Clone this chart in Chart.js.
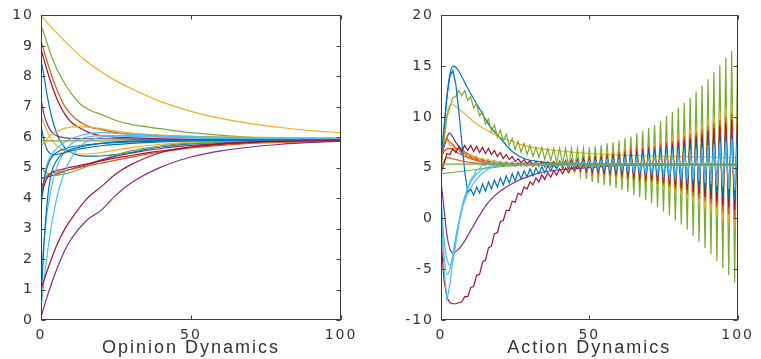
<!DOCTYPE html>
<html>
<head>
<meta charset="utf-8">
<script src="https://cdn.jsdelivr.net/npm/chart.js"></script>
<style>
  html, body { margin: 0; padding: 0; background: #fff; }
  #wrap { position: relative; width: 761px; height: 359px; overflow: hidden; }
  canvas { position: absolute; top: 0; }
</style>
</head>
<body>
<div id="wrap">
  <canvas id="opinion" width="380" height="359" style="left:0;width:380px;height:359px"></canvas>
  <canvas id="action" width="381" height="359" style="left:380px;width:381px;height:359px"></canvas>
</div>
<script>
// MATLAB default line colours
const BLUE = '#0072BD', ORANGE = '#D95319', YELLOW = '#EDB120', PURPLE = '#7E2F8E',
      GREEN = '#77AC30', LBLUE = '#4DBEEE', RED = '#A2142F';

// ---- axis ticks ----
const xTicks = [0, 50, 100];
const opinionYTicks = [0, 1, 2, 3, 4, 5, 6, 7, 8, 9, 10];
const actionYTicks = [-10, -5, 0, 5, 10, 15, 20];

// ---- Opinion Dynamics (each agent: x samples) ----
const opYellowTopX = [0, 5, 10, 15, 20, 25, 30, 40, 50, 60, 70, 80, 90, 100];
const opYellowTopY = [10, 9.45, 8.95, 8.5, 8.15, 7.85, 7.6, 7.17, 6.85, 6.62, 6.45, 6.32, 6.22, 6.15];
const opGreenTopX = [0, 1, 3, 5, 8, 10, 13, 16, 20, 25, 30, 40, 50, 70, 100];
const opGreenTopY = [9.65, 9.4, 8.8, 8.3, 7.75, 7.45, 7.1, 6.9, 6.75, 6.55, 6.42, 6.28, 6.15, 6.0, 5.95];
const opOrangeTopX = [0, 2, 4, 6, 8, 10, 13, 16, 20, 25, 30, 40, 60, 100];
const opOrangeTopY = [9.15, 8.5, 7.9, 7.4, 7.0, 6.75, 6.5, 6.35, 6.25, 6.15, 6.1, 6.05, 6.0, 5.97];
const opRedTopX = [0, 2, 4, 6, 8, 10, 13, 16, 20, 25, 30, 40, 60, 100];
const opRedTopY = [8.9, 8.2, 7.6, 7.1, 6.75, 6.5, 6.3, 6.15, 6.05, 6.0, 5.98, 5.95, 5.93, 5.92];
const opBlueTopX = [0, 1, 2, 3, 4, 5, 6, 8, 10, 12, 15, 18, 22, 26, 30, 35, 40, 50, 70, 100];
const opBlueTopY = [8.55, 8.0, 7.4, 6.9, 6.5, 6.2, 5.95, 5.65, 5.5, 5.42, 5.38, 5.38, 5.4, 5.45, 5.5, 5.6, 5.68, 5.78, 5.87, 5.9];
const opPurpleTopX = [0, 1, 2, 3, 4, 6, 8, 10, 15, 20, 30, 50, 100];
const opPurpleTopY = [7.25, 6.75, 6.45, 6.25, 6.12, 6.02, 5.98, 5.96, 5.95, 5.95, 5.94, 5.93, 5.92];
const opYellowMidX = [0, 1, 2, 3, 5, 7, 10, 13, 16, 20, 25, 30, 40, 50, 70, 100];
const opYellowMidY = [6.7, 6.45, 6.2, 6.0, 5.75, 5.6, 5.5, 5.45, 5.45, 5.5, 5.58, 5.66, 5.77, 5.84, 5.9, 5.92];
const opBlueMidX = [0, 1, 2, 3, 4, 6, 8, 10, 15, 20, 30, 40, 60, 100];
const opBlueMidY = [6.4, 5.9, 5.6, 5.47, 5.43, 5.45, 5.5, 5.55, 5.65, 5.72, 5.8, 5.85, 5.9, 5.92];
const opYellowHumpX = [0, 2, 4, 6, 8, 10, 13, 16, 20, 25, 30, 40, 50, 70, 100];
const opYellowHumpY = [5.7, 5.95, 6.12, 6.22, 6.3, 6.33, 6.35, 6.33, 6.28, 6.2, 6.14, 6.07, 6.03, 6.0, 5.98];
const opLBlueHumpX = [0, 1, 2, 3, 4, 6, 8, 10, 13, 16, 20, 25, 30, 40, 50, 70, 100];
const opLBlueHumpY = [3.6, 4.6, 5.1, 5.35, 5.5, 5.7, 5.85, 5.95, 6.05, 6.12, 6.15, 6.13, 6.1, 6.05, 6.02, 5.98, 5.95];
const opGreenFlatX = [0, 100];
const opGreenFlatY = [5.88, 5.88];
const opGreenLowX = [0, 1, 2, 3, 5, 7, 10, 13, 16, 20, 25, 30, 40, 50, 70, 100];
const opGreenLowY = [5.05, 4.9, 4.82, 4.77, 4.75, 4.78, 4.85, 4.95, 5.08, 5.25, 5.42, 5.55, 5.72, 5.8, 5.88, 5.9];
const opPurpleMidX = [0, 3, 6, 10, 15, 20, 25, 30, 40, 50, 60, 80, 100];
const opPurpleMidY = [4.65, 4.72, 4.82, 4.95, 5.1, 5.25, 5.38, 5.48, 5.63, 5.73, 5.8, 5.87, 5.9];
const opRedMidX = [0, 1, 2, 3, 5, 8, 10, 15, 20, 25, 30, 40, 50, 70, 100];
const opRedMidY = [3.95, 4.4, 4.65, 4.8, 4.9, 4.97, 5.02, 5.12, 5.22, 5.32, 5.4, 5.55, 5.68, 5.82, 5.9];
const opOrangeMidX = [0, 2, 5, 10, 15, 20, 30, 40, 50, 70, 100];
const opOrangeMidY = [4.3, 4.75, 4.85, 4.95, 5.05, 5.15, 5.35, 5.52, 5.65, 5.8, 5.88];
const opBlueRiseX = [0, 1, 2, 3, 4, 6, 8, 10, 15, 20, 30, 50, 100];
const opBlueRiseY = [3.9, 4.6, 5.0, 5.25, 5.4, 5.55, 5.62, 5.68, 5.75, 5.8, 5.85, 5.9, 5.92];
const opLBlueAX = [0, 1, 2, 3, 4, 6, 8, 10, 12, 15, 20, 25, 30, 40, 60, 100];
const opLBlueAY = [1.5, 2.6, 3.5, 4.1, 4.6, 5.2, 5.55, 5.78, 5.9, 6.0, 6.05, 6.05, 6.03, 6.0, 5.96, 5.94];
const opLBlueBX = [0, 1, 2, 3, 4, 6, 8, 10, 12, 15, 20, 25, 30, 40, 60, 100];
const opLBlueBY = [0.4, 1.3, 2.1, 2.8, 3.4, 4.3, 4.9, 5.3, 5.6, 5.85, 6.0, 6.05, 6.05, 6.02, 5.97, 5.94];
const opBlueLowX = [0, 1, 2, 3, 4, 6, 8, 10, 15, 20, 30, 100];
const opBlueLowY = [0.6, 2.5, 3.8, 4.6, 5.0, 5.35, 5.5, 5.6, 5.72, 5.8, 5.87, 5.92];
const opRedLowX = [0, 2, 5, 8, 10, 15, 20, 25, 30, 40, 50, 60, 80, 100];
const opRedLowY = [1.0, 1.6, 2.4, 3.0, 3.3, 3.95, 4.37, 4.8, 5.1, 5.5, 5.68, 5.78, 5.87, 5.9];
const opPurpleLowX = [0, 2, 5, 8, 10, 15, 20, 25, 30, 40, 50, 60, 70, 80, 90, 100];
const opPurpleLowY = [0.1, 0.75, 1.6, 2.3, 2.65, 3.25, 3.6, 4.1, 4.5, 5.02, 5.35, 5.55, 5.68, 5.77, 5.83, 5.87];

// ---- Action Dynamics: oscillating agents, one value per step 0..100 ----
const actGreen = [
  5.0, 7.6, 10.0, 11.0, 11.9, 12.0, 12.6, 12.1, 12.6, 11.6,
  12.0, 10.9, 11.3, 10.1, 10.5, 9.3, 9.8, 8.6, 9.2, 8.0,
  8.7, 7.6, 8.3, 7.2, 7.9, 6.8, 7.6, 6.5, 7.4, 6.3,
  7.2, 6.1, 7.0, 6.0, 7.0, 5.8, 6.9, 5.7, 6.9, 5.5,
  6.9, 5.3, 6.9, 5.1, 6.9, 4.7, 6.9, 4.3, 6.9, 3.9,
  7.0, 3.6, 7.1, 3.5, 7.2, 3.3, 7.4, 3.2, 7.5, 3.0,
  7.7, 2.8, 7.9, 2.6, 8.1, 2.3, 8.4, 2.1, 8.6, 1.8,
  8.9, 1.5, 9.2, 1.1, 9.6, 0.7, 10.1, 0.3, 10.5, -0.2,
  10.9, -0.6, 11.4, -1.1, 11.9, -1.7, 12.5, -2.3, 13.1, -2.9,
  13.7, -3.5, 14.4, -4.2, 15.1, -4.9, 15.8, -5.6, 16.5, -6.3,
  17.2
];
const actYellow = [
  6.5, 7.7, 7.7, 7.2, 7.2, 6.8, 6.8, 6.45, 6.5, 6.2,
  6.3, 6.0, 6.1, 5.8, 5.95, 5.7, 5.85, 5.6, 5.75, 5.5,
  5.65, 5.45, 5.6, 5.4, 5.55, 5.35, 5.5, 5.3, 5.5, 5.3,
  5.5, 5.25, 5.5, 5.2, 5.5, 5.15, 5.5, 5.1, 5.55, 5.05,
  5.7, 4.9, 5.75, 4.8, 5.8, 4.7, 5.9, 4.6, 6.0, 4.5,
  6.2, 4.4, 6.2, 4.35, 6.3, 4.2, 6.4, 4.2, 6.5, 4.1,
  6.6, 4.0, 6.7, 3.9, 6.8, 3.7, 6.9, 3.6, 7.1, 3.4,
  7.2, 3.3, 7.4, 3.1, 7.6, 2.9, 7.8, 2.7, 8.1, 2.4,
  8.3, 2.2, 8.5, 1.9, 8.8, 1.6, 9.1, 1.3, 9.4, 1.0,
  9.8, 0.7, 10.1, 0.3, 10.5, -0.1, 10.9, -0.5, 11.2, -0.8,
  11.6
];
const actOrange = [
  6.2, 7.4, 7.9, 7.5, 7.3, 6.9, 6.8, 6.4, 6.4, 6.0,
  6.1, 5.8, 5.9, 5.6, 5.7, 5.45, 5.6, 5.35, 5.5, 5.25,
  5.45, 5.2, 5.45, 5.2, 5.45, 5.15, 5.45, 5.15, 5.45, 5.15,
  5.45, 5.1, 5.5, 5.1, 5.5, 5.05, 5.5, 5.05, 5.55, 5.0,
  5.6, 4.9, 5.7, 4.9, 5.8, 4.8, 5.8, 4.7, 5.9, 4.6,
  6.0, 4.5, 6.1, 4.5, 6.2, 4.4, 6.2, 4.4, 6.3, 4.3,
  6.4, 4.2, 6.5, 4.1, 6.6, 4.0, 6.7, 3.9, 6.8, 3.7,
  6.9, 3.6, 7.1, 3.4, 7.3, 3.3, 7.5, 3.1, 7.6, 2.9,
  7.8, 2.7, 8.1, 2.4, 8.3, 2.2, 8.5, 1.9, 8.8, 1.7,
  9.1, 1.4, 9.4, 1.1, 9.7, 0.7, 10.0, 0.4, 10.3, 0.1,
  10.7
];
const actRed = [
  4.5, 5.4, 6.4, 6.3, 6.9, 6.5, 7.1, 6.6, 7.2, 6.7,
  7.2, 6.6, 7.1, 6.5, 7.0, 6.4, 6.9, 6.3, 6.7, 6.1,
  6.5, 5.9, 6.3, 5.8, 6.1, 5.6, 5.9, 5.5, 5.8, 5.4,
  5.7, 5.3, 5.6, 5.2, 5.6, 5.1, 5.6, 5.1, 5.6, 5.0,
  5.6, 5.0, 5.6, 5.0, 5.7, 4.9, 5.8, 4.8, 5.9, 4.7,
  5.9, 4.6, 6.0, 4.6, 6.0, 4.5, 6.1, 4.5, 6.2, 4.4,
  6.2, 4.3, 6.3, 4.2, 6.4, 4.1, 6.5, 4.1, 6.6, 3.9,
  6.7, 3.8, 6.8, 3.7, 7.0, 3.5, 7.2, 3.4, 7.3, 3.2,
  7.5, 3.0, 7.7, 2.8, 7.9, 2.6, 8.1, 2.4, 8.3, 2.1,
  8.6, 1.9, 8.9, 1.6, 9.1, 1.3, 9.4, 1.1, 9.7, 0.8,
  9.9
];
const actBlue = [
  6.0, 9.0, 12.0, 14.0, 14.6, 13.2, 10.6, 7.6, 4.6, 2.6,
  2.9, 2.3, 3.1, 2.5, 3.4, 2.7, 3.6, 2.9, 3.8, 3.1,
  4.0, 3.3, 4.2, 3.5, 4.4, 3.7, 4.6, 3.9, 4.7, 4.1,
  4.9, 4.2, 5.0, 4.4, 5.1, 4.5, 5.2, 4.7, 5.3, 4.9,
  5.5, 5.1, 5.6, 5.0, 5.6, 5.0, 5.7, 4.9, 5.7, 4.9,
  5.8, 4.8, 5.8, 4.8, 5.9, 4.7, 5.9, 4.7, 6.0, 4.6,
  6.0, 4.6, 6.1, 4.5, 6.2, 4.4, 6.2, 4.3, 6.3, 4.2,
  6.4, 4.2, 6.5, 4.0, 6.6, 3.9, 6.7, 3.8, 6.9, 3.7,
  7.0, 3.5, 7.1, 3.4, 7.3, 3.2, 7.5, 3.0, 7.6, 2.9,
  7.8, 2.7, 8.0, 2.5, 8.2, 2.2, 8.5, 2.0, 8.7, 1.8,
  8.9
];
const actLightBlue = [
  3.0, -5.0, -8.0, -6.5, -4.0, -2.0, -0.5, 0.8, 2.0, 2.9,
  3.8, 4.2, 4.8, 4.9, 5.3, 5.2, 5.5, 5.3, 5.6, 5.3,
  5.6, 5.3, 5.6, 5.2, 5.6, 5.2, 5.55, 5.2, 5.5, 5.2,
  5.5, 5.2, 5.5, 5.15, 5.45, 5.15, 5.45, 5.15, 5.45, 5.1,
  5.5, 5.1, 5.5, 5.1, 5.5, 5.1, 5.6, 5.0, 5.6, 5.0,
  5.7, 4.9, 5.7, 4.9, 5.7, 4.9, 5.8, 4.8, 5.8, 4.8,
  5.8, 4.8, 5.9, 4.7, 5.9, 4.6, 6.0, 4.6, 6.0, 4.5,
  6.1, 4.5, 6.2, 4.4, 6.3, 4.3, 6.4, 4.2, 6.4, 4.1,
  6.5, 4.0, 6.6, 3.9, 6.8, 3.8, 6.9, 3.7, 7.0, 3.5,
  7.2, 3.4, 7.3, 3.2, 7.5, 3.1, 7.6, 2.9, 7.8, 2.8,
  7.9
];
// red agent with the deep dip, steps 0..60
const actRedDip = [
  -2.0, -6.0, -7.8, -8.3, -8.4, -8.4, -8.3, -8.2, -7.7, -7.7,
  -6.8, -6.7, -5.6, -5.5, -4.3, -4.1, -2.9, -2.7, -1.5, -1.4,
  -0.3, -0.2, 0.8, 0.8, 1.7, 1.6, 2.5, 2.3, 3.1, 2.9,
  3.6, 3.3, 4.0, 3.6, 4.3, 3.85, 4.5, 4.05, 4.7, 4.25,
  4.9, 4.4, 5.0, 4.5, 5.1, 4.6, 5.2, 4.7, 5.3, 4.8,
  5.35, 4.85, 5.4, 4.9, 5.45, 4.95, 5.5, 5.0, 5.55, 5.0,
  5.6
];
// smooth agents of the action plot
const actBlueHumpX = [0, 1, 2, 3, 4, 5, 6, 8, 10, 13, 16, 20, 24, 28, 33, 40, 50, 100];
const actBlueHumpY = [5.0, 8.5, 12.0, 14.2, 15.0, 14.9, 14.5, 13.4, 12.3, 10.8, 9.3, 7.9, 6.6, 5.9, 5.6, 5.4, 5.35, 5.35];
const actYellowHumpX = [0, 1, 2, 3, 4, 5, 8, 12, 16, 20, 24, 28, 33, 42, 50, 60, 70, 80, 100];
const actYellowHumpY = [5.5, 8.0, 10.2, 11.1, 11.2, 11.0, 10.3, 9.3, 8.6, 8.0, 7.6, 7.2, 6.9, 6.6, 6.4, 6.25, 6.15, 6.1, 6.0];
const actPurplePeakX = [0, 1, 2, 3, 4, 5, 7, 10, 15, 20, 30, 100];
const actPurplePeakY = [6.0, 7.0, 8.0, 8.4, 8.0, 7.5, 6.8, 6.2, 5.7, 5.5, 5.35, 5.3];
const actPurpleDipX = [0, 1, 2, 3, 4, 6, 8, 10, 13, 16, 20, 25, 30, 35, 40, 50, 60, 100];
const actPurpleDipY = [3.7, 1.0, -1.6, -3.0, -3.4, -3.0, -2.2, -1.2, 0.3, 1.6, 2.7, 3.6, 4.2, 4.6, 4.8, 5.0, 5.2, 5.3];
const actLBlueDipX = [0, 1, 2, 3, 4, 5, 6, 7, 8, 10, 12, 15, 20, 30, 100];
const actLBlueDipY = [2.0, -2.0, -4.0, -4.6, -4.2, -2.5, -0.5, 1.0, 2.2, 3.6, 4.4, 5.0, 5.3, 5.3, 5.3];
const actLBlueDip2X = [0, 1, 2, 3, 4, 5, 6, 8, 10, 13, 16, 20, 30, 100];
const actLBlueDip2Y = [1.0, -3.5, -5.5, -5.0, -3.5, -1.8, -0.3, 1.8, 3.0, 4.2, 4.9, 5.2, 5.3, 5.3];
const actGreenRiseX = [0, 10, 20, 25, 30, 100];
const actGreenRiseY = [4.4, 4.75, 5.1, 5.2, 5.3, 5.3];
const actGreenFlatX = [0, 100];
const actGreenFlatY = [5.35, 5.35];
const actOrangeEarlyX = [0, 2, 5, 10, 20, 30, 100];
const actOrangeEarlyY = [5.0, 6.0, 5.8, 5.5, 5.3, 5.3, 5.3];
const actRedEarlyX = [0, 1, 3, 6, 10, 15, 20, 100];
const actRedEarlyY = [5.6, 6.6, 6.9, 6.4, 5.9, 5.5, 5.35, 5.3];

const steps = actGreen.map((_, i) => i);
const dipSteps = actRedDip.map((_, i) => i);

function line(xs, ys, color, smooth) {
  return {
    data: xs.map((x, i) => ({ x: x, y: ys[i] })),
    borderColor: color,
    borderWidth: 1.2,
    pointRadius: 0,
    fill: false,
    cubicInterpolationMode: smooth ? 'monotone' : 'default',
    tension: 0
  };
}

// draws the MATLAB style box and inward tick marks
const matlabBox = {
  id: 'matlabBox',
  beforeLayout(chart) { chart.ctx.letterSpacing = '2px'; },
  beforeDraw(chart) { chart.ctx.letterSpacing = '2px'; },
  afterDraw(chart) {
    const ctx = chart.ctx, a = chart.chartArea;
    const xs = chart.scales.x, ys = chart.scales.y;
    const L = Math.round(a.left) + 0.5, R = Math.round(a.right) - 0.5;
    const T = Math.round(a.top) + 0.5, B = Math.round(a.bottom) - 0.5;
    ctx.save();
    ctx.strokeStyle = '#3c3c3c';
    ctx.lineWidth = 1;
    ctx.strokeRect(L, T, R - L, B - T);
    ctx.beginPath();
    ys.ticks.forEach(t => {
      const p = Math.round(ys.getPixelForValue(t.value)) + 0.5;
      ctx.moveTo(L, p); ctx.lineTo(L + 4, p);
      ctx.moveTo(R, p); ctx.lineTo(R - 4, p);
    });
    xs.ticks.forEach(t => {
      const p = Math.round(xs.getPixelForValue(t.value)) + 0.5;
      ctx.moveTo(p, B); ctx.lineTo(p, B - 4);
      ctx.moveTo(p, T); ctx.lineTo(p, T + 4);
    });
    ctx.stroke();
    ctx.restore();
  }
};

function makeChart(id, datasets, yTicks, yWidth, rightPad, title) {
  return new Chart(document.getElementById(id), {
    type: 'line',
    data: { datasets: datasets.reverse() },
    plugins: [matlabBox],
    options: {
      responsive: false,
      animation: false,
      events: [],
      layout: { padding: { left: 0, top: 13, right: rightPad, bottom: 0 } },
      plugins: { legend: { display: false }, tooltip: { enabled: false } },
      scales: {
        x: {
          type: 'linear',
          min: xTicks[0],
          max: xTicks[xTicks.length - 1],
          afterBuildTicks: s => { s.ticks = xTicks.map(v => ({ value: v })); },
          afterFit: s => { s.height = 39; },
          grid: { display: false, drawTicks: false },
          border: { display: false },
          ticks: { color: '#333', padding: 7, maxRotation: 0, font: { family: 'DejaVu Sans', size: 14 } },
          title: {
            display: true, text: title, color: '#333',
            padding: { top: 0, bottom: 0 },
            font: { family: 'Liberation Sans', size: 18 }
          }
        },
        y: {
          type: 'linear',
          min: yTicks[0],
          max: yTicks[yTicks.length - 1],
          afterBuildTicks: s => { s.ticks = yTicks.map(v => ({ value: v })); },
          afterFit: s => { s.width = yWidth; },
          grid: { display: false, drawTicks: false },
          border: { display: false },
          ticks: { color: '#333', padding: 7, font: { family: 'DejaVu Sans', size: 14 } }
        }
      }
    }
  });
}

// listed bottom-most first
const opinionSets = [
  line(opYellowTopX, opYellowTopY, YELLOW, true),
  line(opGreenTopX, opGreenTopY, GREEN, true),
  line(opOrangeTopX, opOrangeTopY, ORANGE, true),
  line(opRedTopX, opRedTopY, RED, true),
  line(opBlueTopX, opBlueTopY, BLUE, true),
  line(opPurpleTopX, opPurpleTopY, PURPLE, true),
  line(opYellowMidX, opYellowMidY, YELLOW, true),
  line(opBlueMidX, opBlueMidY, BLUE, true),
  line(opYellowHumpX, opYellowHumpY, YELLOW, true),
  line(opLBlueHumpX, opLBlueHumpY, LBLUE, true),
  line(opGreenFlatX, opGreenFlatY, GREEN, true),
  line(opGreenLowX, opGreenLowY, GREEN, true),
  line(opPurpleMidX, opPurpleMidY, PURPLE, true),
  line(opRedMidX, opRedMidY, RED, true),
  line(opOrangeMidX, opOrangeMidY, ORANGE, true),
  line(opBlueRiseX, opBlueRiseY, BLUE, true),
  line(opLBlueAX, opLBlueAY, LBLUE, true),
  line(opLBlueBX, opLBlueBY, LBLUE, true),
  line(opBlueLowX, opBlueLowY, BLUE, true),
  line(opRedLowX, opRedLowY, RED, true),
  line(opPurpleLowX, opPurpleLowY, PURPLE, true)
];

const actionSets = [
  line(actGreenRiseX, actGreenRiseY, GREEN, true),
  line(actOrangeEarlyX, actOrangeEarlyY, ORANGE, true),
  line(actRedEarlyX, actRedEarlyY, ORANGE, true),
  line(actPurplePeakX, actPurplePeakY, PURPLE, true),
  line(actPurpleDipX, actPurpleDipY, PURPLE, true),
  line(actLBlueDipX, actLBlueDipY, LBLUE, true),
  line(actLBlueDip2X, actLBlueDip2Y, LBLUE, true),
  line(dipSteps, actRedDip, RED, false),
  line(actBlueHumpX, actBlueHumpY, BLUE, true),
  line(actYellowHumpX, actYellowHumpY, YELLOW, true),
  line(steps, actGreen, GREEN, false),
  line(steps, actYellow, YELLOW, false),
  line(steps, actOrange, ORANGE, false),
  line(steps, actRed, RED, false),
  line(steps, actBlue, BLUE, false),
  line(steps, actLightBlue, LBLUE, false),
  line(actGreenFlatX, actGreenFlatY, GREEN, true)
];

makeChart('opinion', opinionSets, opinionYTicks, 41, 39, 'Opinion Dynamics');
makeChart('action', actionSets, actionYTicks, 61, 19, 'Action Dynamics');
</script>
</body>
</html>
